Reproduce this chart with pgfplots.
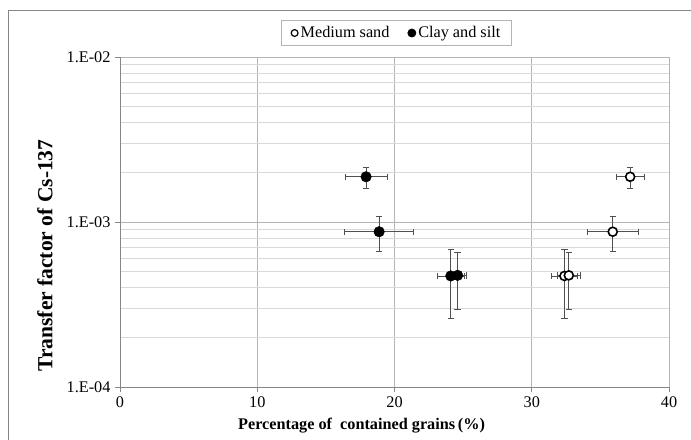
\documentclass[border=0pt]{standalone}
\usepackage{fontspec}
\setmainfont{Liberation Serif}
\usepackage{pgfplots}
\usepackage{pgfplotstable}
\pgfplotsset{compat=1.18}
\definecolor{gridc}{RGB}{217,217,217}
\definecolor{majc}{RGB}{180,180,180}
\definecolor{axc}{RGB}{134,134,134}
\definecolor{errc}{RGB}{80,80,80}

\pgfplotstableread{
x ex y ey
37.17 1.00 1.88e-3 0.27e-3
35.90 1.86 8.73e-4 2.1e-4
32.38 0.92 4.71e-4 2.1e-4
32.70 0.83 4.75e-4 1.8e-4
}\sand
\pgfplotstableread{
x ex y ey
17.93 1.52 1.88e-3 0.27e-3
18.88 2.50 8.73e-4 2.1e-4
24.10 1.00 4.71e-4 2.1e-4
24.60 0.66 4.75e-4 1.8e-4
}\clay

\begin{document}
\begin{tikzpicture}
\path[use as bounding box] (0,0) rectangle (691bp,440bp);
\draw[axc, line width=0.8bp] (8.5bp,-5bp) -- (8.5bp,429.3bp) -- (700bp,429.3bp);
\begin{axis}[
  at={(120bp,53bp)}, anchor=south west,
  scale only axis, width=549bp, height=330bp,
  ymode=log, xmin=0, xmax=40, ymin=1e-4, ymax=1e-2,
  xtick={0,10,20,30,40}, xticklabels={0,10,20,30,40},
  ytick={1e-4,1e-3,1e-2}, yticklabels={1.E-04,1.E-03,1.E-02},
  minor ytick={2e-4,3e-4,4e-4,5e-4,6e-4,7e-4,8e-4,9e-4,2e-3,3e-3,4e-3,5e-3,6e-3,7e-3,8e-3,9e-3},
  xmajorgrids, ymajorgrids, yminorgrids,
  major grid style={majc, line width=0.8bp},
  minor grid style={gridc, line width=0.8bp},
  axis x line*=bottom, axis y line*=left,
  axis line style={axc, line width=0.8bp, -},
  tick align=outside, major tick length=5bp, minor tick length=0pt,
  tick style={axc, line width=0.8bp},
  tick label style={font=\fontsize{16.3}{19}\selectfont, black},
  xticklabel style={yshift=-1bp},
  yticklabel style={xshift=-1bp},
  xlabel={\textbf{Percentage of\ \ contained grains\,(\%)}},
  ylabel={\textbf{Transfer factor of Cs-137}},
  xlabel style={font=\fontsize{16.3}{19}\selectfont, at={(axis description cs:0.44,-0.130)}, anchor=base},
  ylabel style={font=\fontsize{21.6}{25}\selectfont, at={(axis description cs:-0.1366,0.3985)}, anchor=center},
  legend columns=2,
  legend style={at={(0.5036,1.0727)}, anchor=center, draw=majc, line width=0.8bp,
    font=\fontsize{16.3}{19}\selectfont, inner xsep=9bp, inner ysep=4bp,
    /tikz/every even column/.append style={column sep=16bp}},
]
\addplot[forget plot, only marks, mark=*, mark size=4.5bp,
  mark options={draw=black, fill=white, line width=1.6bp},
  error bars/.cd, x dir=both, x explicit, y dir=both, y explicit,
  error bar style={errc, line width=0.75bp},
  error mark options={errc, mark size=3.2bp, line width=0.75bp, rotate=90}]
  table[x=x, y=y, x error=ex, y error=ey] {\sand};
\addplot[forget plot, only marks, mark=*, mark size=5.3bp,
  mark options={draw=black, fill=black},
  error bars/.cd, x dir=both, x explicit, y dir=both, y explicit,
  error bar style={errc, line width=0.75bp},
  error mark options={errc, mark size=3.2bp, line width=0.75bp, rotate=90}]
  table[x=x, y=y, x error=ex, y error=ey] {\clay};
\addlegendimage{legend image code/.code={\draw[black, fill=white, line width=1.2bp] (0bp,0bp) circle (3.4bp);}}
\addlegendentry{Medium sand}
\addlegendimage{legend image code/.code={\fill[black] (0bp,0bp) circle (4bp);}}
\addlegendentry{Clay and silt}
\end{axis}
\end{tikzpicture}
\end{document}
